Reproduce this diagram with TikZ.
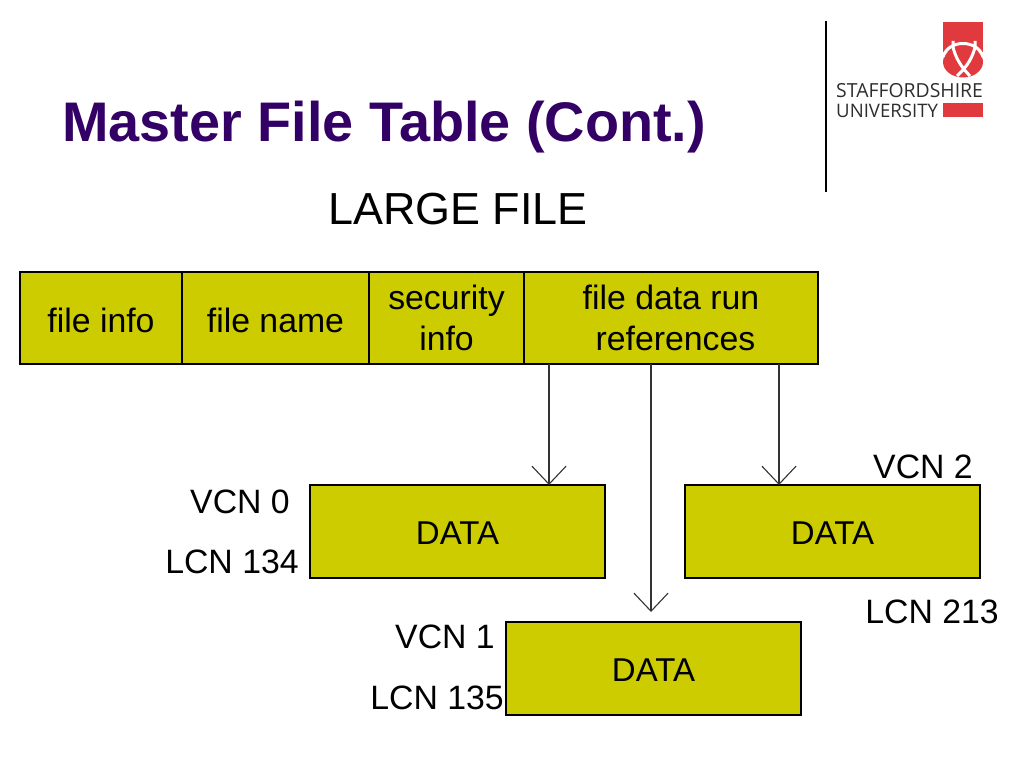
\documentclass[tikz,border=0pt]{standalone}
\usepackage{fontspec}
\setmainfont{Liberation Sans}
\newfontfamily\logofont{Open Sans}
\usetikzlibrary{positioning}
\usetikzlibrary{arrows.meta}
\definecolor{slidetitle}{HTML}{330066}
\definecolor{cellfill}{HTML}{CCCC00}
\definecolor{logored}{HTML}{E03A3E}
\definecolor{logogrey}{HTML}{2E2E30}
\tikzset{cell/.style={draw=black,fill=cellfill,line width=1.1pt,minimum height=92pt,inner sep=0pt,outer sep=0pt,align=center,execute at begin node={\rule{0pt}{29pt}},font=\fontsize{33.8}{41}\selectfont}}
\tikzset{datacell/.style={draw=black,fill=cellfill,line width=1.1pt,minimum width=295pt,minimum height=93pt,inner sep=0pt,outer sep=0pt,anchor=north west,execute at begin node={\rule{0pt}{26pt}},font=\fontsize{33}{40}\selectfont}}
\tikzset{lab/.style={inner sep=0pt,font=\fontsize{33.8}{38}\selectfont}}
\tikzset{run/.style={draw=black!80,line width=1.1pt,-{Straight Barb[length=18pt,width=34pt,line width=1.1pt]}}}
\tikzset{logotext/.style={inner sep=0pt,anchor=base west,text=logogrey,font=\logofont}}
\tikzset{knot/.style={white,line width=3pt}}

\begin{document}
\begin{tikzpicture}[x=1pt,y=-1pt]
\useasboundingbox (0,0) rectangle (1024,768);

\node[anchor=base west,inner sep=0pt,text=slidetitle,font=\fontsize{55.8}{60}\selectfont\bfseries] (title) at (62,141) {Master File Table (Cont.)};
\node[anchor=base,inner sep=0pt,font=\fontsize{44.9}{50}\selectfont] (large) at (458,224) {LARGE FILE};

% file record
\node[cell,minimum width=162pt,anchor=north west] (info) at (20,272) {file info};
\node[cell,minimum width=187pt] (name) [right = 0pt of info] {file name};
\node[cell,minimum width=155pt] (sec) [right = 0pt of name] {security\\info};
\node[cell,minimum width=294pt] (refs) [right = 0pt of sec] {file data run\\\hspace{9pt}references};

% data runs
\node[datacell] (data0) at (310,485) {DATA};
\node[datacell] (data2) at (685,485) {DATA};
\node[datacell] (data1) at (506,622) {DATA};

\node[lab,anchor=base] (vcn0) at (240,513) {VCN 0};
\node[lab,anchor=base] (lcn0) at (232,573) {LCN 134};
\node[lab,anchor=base] (vcn1) at (445,648) {VCN 1};
\node[lab,anchor=base] (lcn1) at (437,709) {LCN 135};
\node[lab,anchor=base] (vcn2) at (923,478) {VCN 2};
\node[lab,anchor=base] (lcn2) at (932,623) {LCN 213};

\coordinate (tip0) at (549,485);
\coordinate (tip1) at (651,612);
\coordinate (tip2) at (779,485);
\draw[run] (refs.south -| tip0) -- (tip0);
\draw[run] (refs.south -| tip1) -- (tip1);
\draw[run] (refs.south -| tip2) -- (tip2);

% logo
\coordinate (ruleT) at (826,21);
\coordinate (ruleB) at (826,192);
\draw[black,line width=1.1pt] (ruleT) -- (ruleB);
\fill[logored] (943,22) rectangle (983,52);
\fill[logored] (963,62) ellipse (20pt and 15.5pt);
\fill[logored] (943,103) rectangle (983,117);
\node[logotext,font=\logofont\fontsize{19.4}{20}\selectfont] (staff) at (836,97) {STAFFORDSHIRE};
\node[logotext,font=\logofont\fontsize{18.6}{20}\selectfont] (univ) at (836,117) {UNIVERSITY};
\draw[knot] (943,57) .. controls (948,39) and (978,39) .. (983,57);
\draw[knot] (953,41) -- (953,47) .. controls (955,56) and (960,66) .. (970,76);
\draw[knot] (975,41) -- (975,47) .. controls (973,56) and (968,66) .. (957,76);
\end{tikzpicture}
\end{document}
